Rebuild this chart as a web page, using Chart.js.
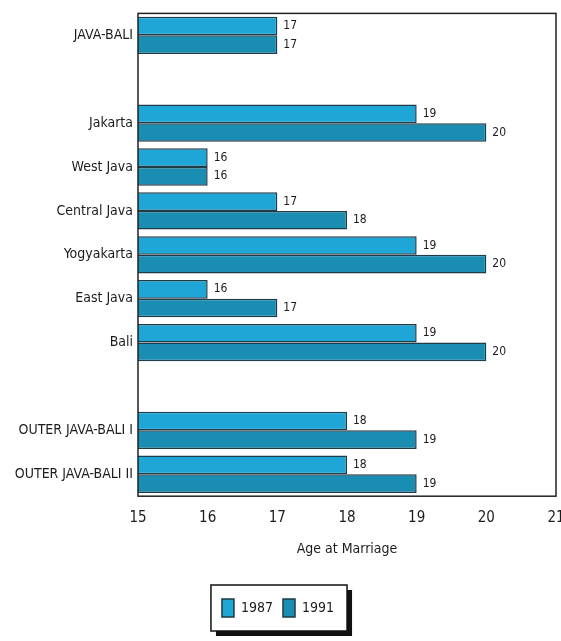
<!DOCTYPE html>
<html lang="en">
<head>
<meta charset="UTF-8">
<title>Age at Marriage</title>
<script src="https://cdn.jsdelivr.net/npm/chart.js"></script>
<style>
  html, body { margin: 0; padding: 0; background: #fff; }
  canvas { display: block; }
</style>
</head>
<body>
<canvas id="chart" width="561" height="641"></canvas>
<script>
// data, blank rows are the gaps between groups
const categories = ['JAVA-BALI', '', 'Jakarta', 'West Java', 'Central Java', 'Yogyakarta',
  'East Java', 'Bali', '', 'OUTER JAVA-BALI I', 'OUTER JAVA-BALI II'];
const values1987 = [17, null, 19, 16, 17, 19, 16, 19, null, 18, 18];
const values1991 = [17, null, 20, 16, 18, 20, 17, 20, null, 19, 19];
const xTicks = [15, 16, 17, 18, 19, 20, 21];

const FONT = "'Liberation Sans Narrow', 'DejaVu Sans Condensed', 'Liberation Sans', sans-serif";
const INK = '#1c1c1c';

const background = {
  id: 'background',
  beforeDraw(chart) {
    const { ctx, width, height } = chart;
    ctx.save();
    ctx.fillStyle = '#fff';
    ctx.fillRect(0, 0, width, height);
    // box with a drop shadow round the legend
    const boxes = chart.legend && chart.legend.legendHitBoxes;
    if (boxes && boxes.length) {
      const l = Math.min(...boxes.map(b => b.left)) - 11;
      const r = Math.max(...boxes.map(b => b.left + b.width)) + 13;
      const t = Math.min(...boxes.map(b => b.top)) - 14;
      const btm = Math.max(...boxes.map(b => b.top + b.height)) + 14;
      ctx.fillStyle = '#111';
      ctx.fillRect(l + 5, t + 5, r - l, btm - t);
      ctx.fillStyle = '#fff';
      ctx.fillRect(l, t, r - l, btm - t);
      ctx.strokeStyle = '#111';
      ctx.lineWidth = 1.5;
      ctx.strokeRect(l, t, r - l, btm - t);
    }
    ctx.restore();
  }
};

const frameAndLabels = {
  id: 'frameAndLabels',
  afterDatasetsDraw(chart) {
    const { ctx, chartArea: a } = chart;
    ctx.save();
    ctx.strokeStyle = '#222';
    ctx.lineWidth = 1.5;
    ctx.strokeRect(a.left, a.top, a.right - a.left, a.bottom - a.top);
    ctx.font = '12px ' + FONT;
    ctx.fillStyle = INK;
    ctx.textBaseline = 'middle';
    chart.data.datasets.forEach((ds, i) => {
      chart.getDatasetMeta(i).data.forEach((bar, j) => {
        if (ds.data[j] == null) return;
        ctx.fillText(ds.data[j], bar.x + 6, bar.y);
      });
    });
    ctx.restore();
  }
};

new Chart(document.getElementById('chart'), {
  type: 'bar',
  data: {
    labels: categories,
    datasets: [
      {
        label: '1987',
        data: values1987,
        base: 15,
        backgroundColor: '#1ea6d6',
        borderColor: '#1d3b48',
        borderWidth: 1.5,
        categoryPercentage: 0.85,
        barPercentage: 1
      },
      {
        label: '1991',
        data: values1991,
        base: 15,
        backgroundColor: '#1a8db3',
        borderColor: '#1d3b48',
        borderWidth: 1.5,
        categoryPercentage: 0.85,
        barPercentage: 1
      }
    ]
  },
  options: {
    indexAxis: 'y',
    responsive: false,
    animation: false,
    layout: { padding: { top: 12, right: 5, bottom: 14, left: 0 } },
    scales: {
      x: {
        min: xTicks[0],
        max: xTicks[xTicks.length - 1],
        afterBuildTicks(scale) { scale.ticks = xTicks.map(v => ({ value: v })); },
        afterFit(scale) { scale.paddingRight = 0; },
        grid: { display: false },
        border: { display: false },
        ticks: { padding: 5, color: INK, font: { family: FONT, size: 15 } },
        title: {
          display: true,
          text: 'Age at Marriage',
          color: INK,
          padding: { top: 9, bottom: 31 },
          font: { family: FONT, size: 14 }
        }
      },
      y: {
        afterFit(scale) { scale.width = 138; },
        grid: { display: false, drawTicks: false },
        border: { display: false },
        ticks: { padding: 5, color: INK, font: { family: FONT, size: 14 }, autoSkip: false }
      }
    },
    plugins: {
      legend: {
        position: 'bottom',
        labels: {
          boxWidth: 12,
          boxHeight: 18,
          padding: 10,
          color: INK,
          font: { family: FONT, size: 14 }
        }
      },
      tooltip: { enabled: false }
    }
  },
  plugins: [background, frameAndLabels]
});
</script>
</body>
</html>
